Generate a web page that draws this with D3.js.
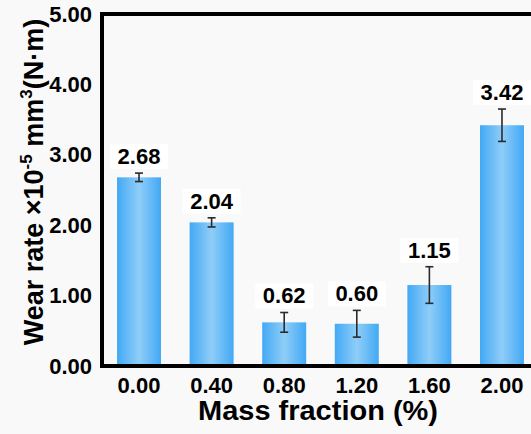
<!DOCTYPE html>
<html><head><meta charset="utf-8">
<script src="https://cdn.jsdelivr.net/npm/d3@7"></script>
<style>
html,body{margin:0;padding:0;background:#f9f9f9;}
svg{display:block;}
text{font-family:"Liberation Sans",Arial,sans-serif;font-weight:bold;fill:#000;}
</style></head>
<body>
<script>
const categories = ["0.00","0.40","0.80","1.20","1.60","2.00"];
const values = [2.68, 2.04, 0.62, 0.60, 1.15, 3.42];
const errors = [0.06, 0.065, 0.14, 0.19, 0.26, 0.23];
const valueLabels = ["2.68","2.04","0.62","0.60","1.15","3.42"];
const yTicks = [0, 1, 2, 3, 4, 5];
const yTickLabels = ["0.00","1.00","2.00","3.00","4.00","5.00"];

const W = 531, H = 434;
const svg = d3.select("body").append("svg").attr("width", W).attr("height", H);

const defs = svg.append("defs");
const grad = defs.append("linearGradient").attr("id","barGrad").attr("x1","0%").attr("x2","100%").attr("y1","0%").attr("y2","0%");
grad.append("stop").attr("offset","0%").attr("stop-color","#42a9f4");
grad.append("stop").attr("offset","50%").attr("stop-color","#8fcdf8");
grad.append("stop").attr("offset","100%").attr("stop-color","#42a9f4");

const x = d3.scaleBand().domain(categories).range([102, 539]).paddingInner(0.394).paddingOuter(0.207);
const y = d3.scaleLinear().domain([0, 5]).range([366, 14]);

// bars
svg.append("g").selectAll("rect").data(values).join("rect")
  .attr("x", (d,i) => x(categories[i]))
  .attr("width", x.bandwidth())
  .attr("y", d => y(d))
  .attr("height", d => y(0) - y(d))
  .attr("fill", "url(#barGrad)");

// error bars
const eg = svg.append("g").attr("stroke","#2a2a2a").attr("stroke-width",1.6);
values.forEach((v,i) => {
  const cx = x(categories[i]) + x.bandwidth()/2;
  const t = y(v + errors[i]), b = y(v - errors[i]);
  eg.append("line").attr("x1",cx).attr("x2",cx).attr("y1",t).attr("y2",b);
  eg.append("line").attr("x1",cx-4).attr("x2",cx+4).attr("y1",t).attr("y2",t);
  eg.append("line").attr("x1",cx-4).attr("x2",cx+4).attr("y1",b).attr("y2",b);
});

// value labels with white boxes
const lg = svg.append("g");
values.forEach((v,i) => {
  const cx = x(categories[i]) + x.bandwidth()/2;
  const by = y(v + errors[i]) - 9;
  lg.append("rect").attr("x", cx-29).attr("y", by-20).attr("width",58).attr("height",25).attr("fill","#ffffff");
  lg.append("text").attr("x", cx).attr("y", by).attr("text-anchor","middle")
    .attr("font-size", 22).text(valueLabels[i]);
});

// axes lines
svg.append("line").attr("x1",100).attr("x2",W).attr("y1",14).attr("y2",14).attr("stroke","#000").attr("stroke-width",4);
svg.append("line").attr("x1",102).attr("x2",102).attr("y1",12).attr("y2",368).attr("stroke","#000").attr("stroke-width",4);
svg.append("line").attr("x1",100).attr("x2",W).attr("y1",366).attr("y2",366).attr("stroke","#000").attr("stroke-width",4);

// y axis ticks (labels only)
const yAxis = d3.axisLeft(y).tickValues(yTicks).tickSize(0).tickPadding(8)
  .tickFormat((d,i) => yTickLabels[i]);
const yg = svg.append("g").attr("transform","translate(100,0)").call(yAxis);
yg.select(".domain").remove();
yg.selectAll("text").attr("font-size",22).attr("font-family","Liberation Sans, Arial, sans-serif").attr("font-weight","bold").attr("fill","#000");

// x axis
const xAxis = d3.axisBottom(x).tickSize(0).tickPadding(9);
const xg = svg.append("g").attr("transform","translate(0,368)").call(xAxis);
xg.select(".domain").remove();
xg.selectAll("text").attr("font-size",22).attr("font-family","Liberation Sans, Arial, sans-serif").attr("font-weight","bold").attr("fill","#000");

// axis titles
svg.append("text").attr("x", 318).attr("y", 420).attr("text-anchor","middle").attr("font-size",27)
  .attr("textLength",240).attr("lengthAdjust","spacingAndGlyphs")
  .text("Mass fraction (%)");

const yt = svg.append("text").attr("transform","translate(43,182) rotate(-90)").attr("text-anchor","middle").attr("font-size",27);
yt.append("tspan").text("Wear rate ×10");
yt.append("tspan").attr("font-size",17).attr("dy",-11).text("-5");
yt.append("tspan").attr("dy",11).text(" mm");
yt.append("tspan").attr("font-size",17).attr("dy",-11).text("3");
yt.append("tspan").attr("dy",11).text("(N·m)");
</script>
</body></html>
